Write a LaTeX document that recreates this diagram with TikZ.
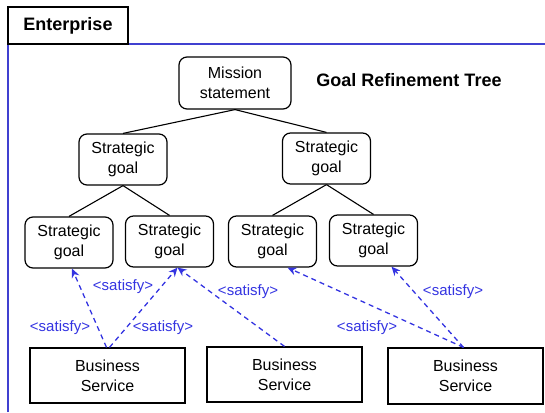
\documentclass[tikz,border=0pt]{standalone}
\usepackage{fontspec}
\setmainfont{Liberation Sans}
\usetikzlibrary{arrows.meta,calc}
\definecolor{frameblue}{RGB}{64,64,208}
\definecolor{satblue}{RGB}{52,52,225}
\tikzset{
  goalbox/.style={draw, rounded corners=8pt, line width=1.2pt, minimum width=88pt, minimum height=51pt, align=center, inner sep=0pt, font=\fontsize{16}{20}\selectfont},
  svcbox/.style={draw, line width=1.2pt, minimum width=155pt, minimum height=55pt, align=center, inner sep=0pt, font=\fontsize{16}{20}\selectfont},
  treeline/.style={line width=1.1pt},
  satarrow/.style={draw=satblue, line width=1.3pt, dash pattern=on 5pt off 4pt, -{Stealth[length=9pt,width=8pt]}},
  satlabel/.style={text=satblue, font=\fontsize{15}{16}\selectfont, inner sep=0pt}
}
\begin{document}
\begin{tikzpicture}[x=1pt,y=-1pt]
\useasboundingbox (0,0) rectangle (545,412);
% frame
\draw[frameblue, line width=1.3pt] (8,412) -- (8,44) -- (545,44);
\node[draw, line width=1.3pt, minimum width=120pt, minimum height=37pt, inner sep=0pt, font=\bfseries\fontsize{18}{20}\selectfont] (tab) at (68,25.5) {Enterprise};
\node[font=\bfseries\fontsize{18}{20}\selectfont, inner sep=0pt] (title) at (409,80) {Goal Refinement Tree};
% goals
\node[goalbox, minimum width=112pt, minimum height=52pt] (mission) at (235,83) {Mission\\statement};
\node[goalbox] (sa) at (123,159.5) {Strategic\\goal};
\node[goalbox] (sb) at (326.5,158.5) {Strategic\\goal};
\node[goalbox] (g1) at (69,242.5) {Strategic\\goal};
\node[goalbox] (g2) at (169.5,241.5) {Strategic\\goal};
\node[goalbox] (g3) at (272.5,241.5) {Strategic\\goal};
\node[goalbox] (g4) at (373.5,240.5) {Strategic\\goal};
% services
\node[svcbox] (bsa) at (107.5,375.5) {Business\\Service};
\node[svcbox] (bsb) at (284.5,374.5) {Business\\Service};
\node[svcbox, minimum height=56pt] (bsc) at (465.5,376) {Business\\Service};
% tree
\draw[treeline] (mission.south) -- (sa.north);
\draw[treeline] (mission.south) -- (sb.north);
\draw[treeline] (sa.south) -- (g1.north);
\draw[treeline] (sa.south) -- (g2.north);
\draw[treeline] (sb.south) -- (g3.north);
\draw[treeline] (sb.south) -- (g4.north);
% satisfy arrows
\coordinate (t1) at ($(g1.south)+(3,0)$);
\coordinate (t2) at ($(g2.south)+(8,0)$);
\coordinate (t3) at ($(g3.south)+(15,0)$);
\coordinate (t4) at ($(g4.south)+(18,0)$);
\coordinate (a1) at ($(bsa.north)+(-1,0)$);
\coordinate (a2) at ($(bsa.north)+(2,0)$);
\coordinate (c1) at ($(bsc.north)+(-2,0)$);
\draw[satarrow] (a1) -- (t1);
\draw[satarrow] (a2) -- (t2);
\draw[satarrow] (bsb.north) -- (t2);
\draw[satarrow] (c1) -- (t3);
\draw[satarrow] (c1) -- (t4);
% labels
\node[satlabel] (l1) at (123,287) {<satisfy>};
\node[satlabel] (l2) at (60,328) {<satisfy>};
\node[satlabel] (l3) at (163,328) {<satisfy>};
\node[satlabel] (l4) at (248,292) {<satisfy>};
\node[satlabel] (l5) at (453,292) {<satisfy>};
\node[satlabel] (l6) at (367,328) {<satisfy>};
\end{tikzpicture}
\end{document}
